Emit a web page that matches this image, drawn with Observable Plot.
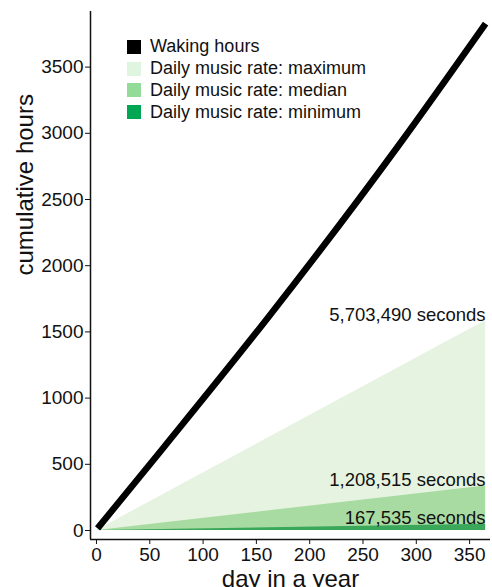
<!DOCTYPE html>
<html>
<head>
<meta charset="utf-8">
<script src="https://cdn.jsdelivr.net/npm/d3@7"></script>
<script src="https://cdn.jsdelivr.net/npm/@observablehq/plot@0.6"></script>
<style>
  body { margin: 0; background: #fff; font-family: "Liberation Sans", Arial, Helvetica, sans-serif; }
  #wrap { position: relative; width: 492px; height: 587px; }
  #legend { position: absolute; left: 127px; top: 36px; font-size: 18px; color: #111; }
  .row { display: flex; align-items: center; height: 21.8px; }
  .sw { width: 14px; height: 14px; margin-right: 9px; }
</style>
</head>
<body>
<div id="wrap"><div id="legend"></div></div>
<script>
// Waking hours, cumulative
const wakeDays  = [1, 63, 161, 282, 365];
const wakeHours = [16, 627, 1609, 2893, 3829];

// Music areas: start and end of year (hours)
const musicDays   = [1, 365];
const musicMax    = [4.3, 1584.3];
const musicMedian = [0.9, 335.7];
const musicMin    = [0.1, 46.5];

const endLabels = ["5,703,490 seconds", "1,208,515 seconds", "167,535 seconds"];
const endValues = [1584.3, 335.7, 46.5];

const legendNames  = ["Waking hours", "Daily music rate: maximum", "Daily music rate: median", "Daily music rate: minimum"];
const legendColors = ["#000000", "#e0f5df", "#93db98", "#00a651"];
const areaColors   = ["#e5f3e0", "#a8dba1", "#3aa75a"];

const xTicks = [0, 50, 100, 150, 200, 250, 300, 350];
const yTicks = [0, 500, 1000, 1500, 2000, 2500, 3000, 3500];
const xDomain = [-5.6, 369.6];
const yDomain = [-68, 3920];

const wake = wakeDays.map((d, i) => ({day: d, hours: wakeHours[i]}));
const music = musicDays.map((d, i) => ({day: d, max: musicMax[i], median: musicMedian[i], min: musicMin[i]}));
const labels = endLabels.map((t, i) => ({day: 365, value: endValues[i], text: t}));

const font = "'Liberation Sans', Arial, Helvetica, sans-serif";

const chart = Plot.plot({
  width: 492,
  height: 587,
  marginLeft: 90,
  marginRight: 2,
  marginTop: 11,
  marginBottom: 48,
  style: {fontFamily: font, background: "#fff", color: "#111"},
  x: {domain: xDomain},
  y: {domain: yDomain},
  marks: [
    Plot.areaY(music, {x: "day", y1: 0, y2: "max", fill: areaColors[0]}),
    Plot.areaY(music, {x: "day", y1: 0, y2: "median", fill: areaColors[1]}),
    Plot.areaY(music, {x: "day", y1: 0, y2: "min", fill: areaColors[2]}),
    Plot.line(wake, {x: "day", y: "hours", stroke: "#000", strokeWidth: 6.5, strokeLinecap: "butt", curve: "monotone-x"}),
    Plot.text(labels, {x: "day", y: "value", text: "text", textAnchor: "end", lineAnchor: "bottom", fontSize: 18.5, fill: "#111"}),
    Plot.ruleX([xDomain[0]], {stroke: "#111", strokeWidth: 1.5}),
    Plot.ruleY([yDomain[0]], {stroke: "#111", strokeWidth: 1.5}),
    Plot.axisX({ticks: xTicks, tickSize: 5, tickPadding: 3, fontSize: 19, label: null, stroke: "#111", tickFormat: d => String(d)}),
    Plot.axisY({ticks: yTicks, tickSize: 5, tickPadding: 2, fontSize: 19, label: null, stroke: "#111", tickFormat: d => String(d)}),
    Plot.text(["day in a year"], {frameAnchor: "bottom", dy: 47, lineAnchor: "bottom", fontSize: 24, fill: "#111"}),
    Plot.text(["cumulative hours"], {frameAnchor: "left", dx: -58, rotate: -90, lineAnchor: "bottom", fontSize: 24, fill: "#111"})
  ]
});
document.getElementById("wrap").prepend(chart);

const leg = document.getElementById("legend");
legendNames.forEach((n, i) => {
  const r = document.createElement("div");
  r.className = "row";
  r.innerHTML = `<div class="sw" style="background:${legendColors[i]}"></div><span>${n}</span>`;
  leg.appendChild(r);
});
</script>
</body>
</html>
